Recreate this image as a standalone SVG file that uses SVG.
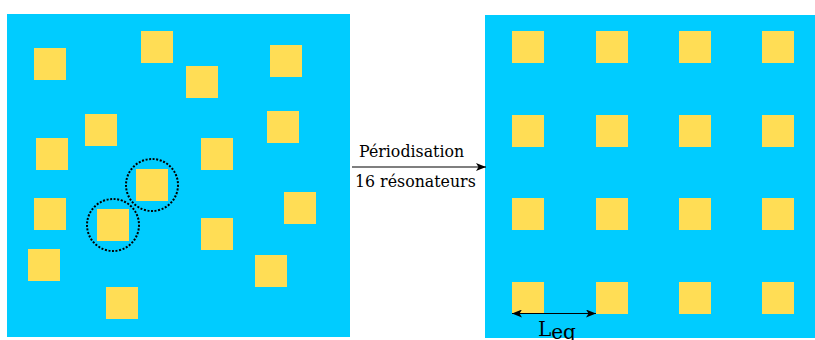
<svg xmlns="http://www.w3.org/2000/svg" width="815" height="340" viewBox="0 0 815 340">
<defs>
<style>
.bg{fill:#00ccff}
.res{fill:#ffdd55}
.ring{fill:none;stroke:#000;stroke-width:2;stroke-dasharray:2 1.6}
.lbl{font-family:"DejaVu Serif",serif;fill:#000}
.conn{stroke:#000;stroke-width:1.2;fill:none}
</style>
<marker id="ah" viewBox="0 0 10 8" refX="10" refY="4" markerWidth="10" markerHeight="8" markerUnits="userSpaceOnUse" orient="auto-start-reverse">
<path d="M0,0 L10,4 L0,8 L2.5,4 Z" fill="#000"/>
</marker>
<rect id="sq" width="32" height="32" class="res"/>
</defs>
<g id="disordered">
<rect class="bg" x="7" y="14" width="343" height="323"/>
<use href="#sq" x="34" y="48"/>
<use href="#sq" x="141" y="31"/>
<use href="#sq" x="270" y="45"/>
<use href="#sq" x="186" y="66"/>
<use href="#sq" x="85" y="114"/>
<use href="#sq" x="267" y="111"/>
<use href="#sq" x="36" y="138"/>
<use href="#sq" x="201" y="138"/>
<use href="#sq" x="136" y="169"/>
<use href="#sq" x="284" y="192"/>
<use href="#sq" x="34" y="198"/>
<use href="#sq" x="97" y="209"/>
<use href="#sq" x="201" y="218"/>
<use href="#sq" x="28" y="249"/>
<use href="#sq" x="255" y="255"/>
<use href="#sq" x="106" y="287"/>
<circle class="ring" cx="152" cy="185" r="26"/>
<circle class="ring" cx="113" cy="225" r="26"/>
</g>
<g id="periodic">
<rect class="bg" x="485" y="15" width="330" height="323"/>
<use href="#sq" x="512" y="31"/><use href="#sq" x="596" y="31"/><use href="#sq" x="679" y="31"/><use href="#sq" x="762" y="31"/>
<use href="#sq" x="512" y="115"/><use href="#sq" x="596" y="115"/><use href="#sq" x="679" y="115"/><use href="#sq" x="762" y="115"/>
<use href="#sq" x="512" y="198"/><use href="#sq" x="596" y="198"/><use href="#sq" x="679" y="198"/><use href="#sq" x="762" y="198"/>
<use href="#sq" x="512" y="282"/><use href="#sq" x="596" y="282"/><use href="#sq" x="679" y="282"/><use href="#sq" x="762" y="282"/>
</g>
<g id="connectors">
<line class="conn" x1="352" y1="167" x2="486" y2="167" marker-end="url(#ah)"/>
<line class="conn" x1="512" y1="313.5" x2="596" y2="313.5" marker-start="url(#ah)" marker-end="url(#ah)"/>
</g>
<g id="labels">
<text class="lbl" x="359" y="157" font-size="15.8">Périodisation</text>
<text class="lbl" x="355" y="187" font-size="15.8">16 résonateurs</text>
<text class="lbl" x="538" y="336" font-size="20">L<tspan dy="2.5">eq</tspan></text>
</g>
</svg>
